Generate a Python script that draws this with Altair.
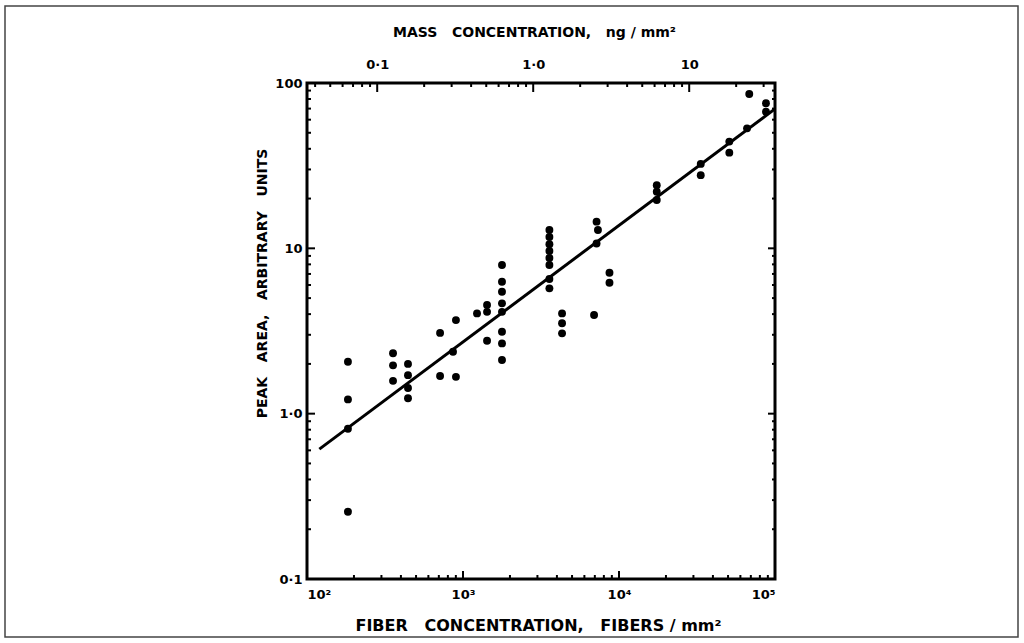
import altair as alt
import pandas as pd

# Measured points: fiber concentration (fibers/mm2) vs. peak area (arbitrary units)
fiber = [
    183, 183, 183, 183,
    356, 356, 356,
    444, 444, 444, 444,
    713, 713,
    901, 863, 901,
    1230,
    1426, 1426, 1426,
    1778, 1778, 1778, 1778, 1778, 1778, 1778, 1778,
    3580, 3580, 3580, 3580, 3580, 3580, 3580, 3580,
    4315, 4315, 4315,
    6920,
    7180, 7330, 7180,
    8690, 8690,
    17460, 17460, 17460,
    33420, 33420,
    50950, 50950,
    66200,
    68400,
    87500, 87500,
]
peak = [
    2.06, 1.22, 0.81, 0.255,
    2.32, 1.96, 1.58,
    2.0, 1.71, 1.43, 1.24,
    3.08, 1.69,
    3.68, 2.37, 1.67,
    4.04,
    4.54, 4.13, 2.76,
    7.93, 6.28, 5.46, 4.65, 4.13, 3.13, 2.66, 2.11,
    12.9, 11.7, 10.6, 9.64, 8.74, 7.93, 6.52, 5.73,
    4.04, 3.52, 3.06,
    3.95,
    14.5, 12.9, 10.7,
    7.12, 6.19,
    24.1, 22.0, 19.6,
    32.4, 27.7,
    44.2, 37.9,
    53.2,
    85.8,
    75.4, 67.0,
]

# Fitted calibration line (end points)
fit_fiber = [120, 100000]
fit_peak = [0.61, 69.7]

# Axis ticks
fiber_major = [100, 1000, 10000, 100000]
fiber_minor = [k * 10 ** d for d in (2, 3, 4) for k in range(2, 10)]
peak_major = [0.1, 1, 10, 100]
peak_minor = [round(k * 10.0 ** d, 4) for d in (-1, 0, 1) for k in range(2, 10)]
mass_major = [0.1, 1, 10]
mass_minor = ([round(k * 0.01, 3) for k in range(4, 10)]
              + [round(k * 0.1, 3) for k in range(2, 10)]
              + list(range(2, 10)) + [20, 30])

W, H = 468, 496
FONT = "DejaVu Sans"

FX = alt.Scale(type="log", domain=[100, 100000], nice=False)
FY = alt.Scale(type="log", domain=[0.1, 100], nice=False)
MX = alt.Scale(type="log", domain=[10 ** -1.45, 10 ** 1.55], nice=False)

GAP = "\u00a0\u00a0 "

bottom_labels = ("datum.value == 100 ? '10²' : datum.value == 1000 ? '10³' : "
                 "datum.value == 10000 ? '10⁴' : '10⁵'")
top_labels = "datum.value == 0.1 ? '0·1' : datum.value == 1 ? '1·0' : '10'"
left_labels = ("datum.value == 0.1 ? '0·1' : datum.value == 1 ? '1·0' : "
               "datum.value == 10 ? '10' : '100'")

common_axis = dict(ticks=False, domain=False, grid=False, labelFont=FONT,
                   labelFontWeight="bold", labelColor="black", titleFont=FONT,
                   titleFontWeight="bold", titleColor="black")

pts_df = pd.DataFrame({"fiber": fiber, "peak": peak})
fit_df = pd.DataFrame({"fiber": fit_fiber, "peak": fit_peak})

points = alt.Chart(pts_df).mark_circle(size=62, color="black", opacity=1).encode(
    x=alt.X("fiber:Q", scale=FX, axis=None),
    y=alt.Y("peak:Q", scale=FY, axis=None),
)

fit = alt.Chart(fit_df).mark_line(color="black", strokeWidth=3).encode(
    x=alt.X("fiber:Q", scale=FX, axis=None),
    y=alt.Y("peak:Q", scale=FY, axis=None),
)

# Bottom axis: fiber concentration
bottom_major = alt.Chart(pd.DataFrame({"v": fiber_major})).mark_rule(
    color="black", strokeWidth=2).encode(
    x=alt.X("v:Q", scale=FX, axis=alt.Axis(
        orient="bottom", values=fiber_major, labelExpr=bottom_labels,
        labelFontSize=13, labelPadding=9,
        title=f"FIBER{GAP}CONCENTRATION,{GAP}FIBERS / mm²", titleFontSize=16,
        titleX=231, titleY=46, titleAlign="center", titleBaseline="middle",
        **common_axis)),
    y=alt.value(H), y2=alt.value(H - 8),
)
bottom_minor = alt.Chart(pd.DataFrame({"v": fiber_minor})).mark_rule(
    color="black", strokeWidth=2).encode(
    x=alt.X("v:Q", scale=FX, axis=None),
    y=alt.value(H), y2=alt.value(H - 4),
)

# Top axis: mass concentration
top_major = alt.Chart(pd.DataFrame({"v": mass_major})).mark_rule(
    color="black", strokeWidth=2).encode(
    x=alt.X("v:Q", scale=MX, axis=alt.Axis(
        orient="top", values=mass_major, labelExpr=top_labels,
        labelFontSize=13, labelPadding=12,
        title=f"MASS{GAP}CONCENTRATION,{GAP}ng / mm²", titleFontSize=14,
        titleX=227, titleY=-51, titleAlign="center", titleBaseline="middle",
        **common_axis)),
    y=alt.value(0), y2=alt.value(9),
)
top_minor = alt.Chart(pd.DataFrame({"v": mass_minor})).mark_rule(
    color="black", strokeWidth=2).encode(
    x=alt.X("v:Q", scale=MX, axis=None),
    y=alt.value(0), y2=alt.value(4),
)

# Left axis: peak area
left_major = alt.Chart(pd.DataFrame({"v": peak_major})).mark_rule(
    color="black", strokeWidth=2).encode(
    y=alt.Y("v:Q", scale=FY, axis=alt.Axis(
        orient="left", values=peak_major, labelExpr=left_labels,
        labelFontSize=13, labelPadding=5,
        title=f"PEAK{GAP}AREA,{GAP}ARBITRARY{GAP}UNITS", titleFontSize=14,
        titleX=-45, titleY=200, titleAngle=-90, titleAlign="center",
        titleBaseline="middle", **common_axis)),
    x=alt.value(0), x2=alt.value(8),
)
left_minor = alt.Chart(pd.DataFrame({"v": peak_minor})).mark_rule(
    color="black", strokeWidth=2).encode(
    y=alt.Y("v:Q", scale=FY, axis=None),
    x=alt.value(0), x2=alt.value(4),
)

# Right axis ticks (no labels)
right_major = alt.Chart(pd.DataFrame({"v": peak_major})).mark_rule(
    color="black", strokeWidth=2).encode(
    y=alt.Y("v:Q", scale=FY, axis=None),
    x=alt.value(W), x2=alt.value(W - 7),
)
right_minor = alt.Chart(pd.DataFrame({"v": peak_minor})).mark_rule(
    color="black", strokeWidth=2).encode(
    y=alt.Y("v:Q", scale=FY, axis=None),
    x=alt.value(W), x2=alt.value(W - 3),
)

# Outer frame around the figure
frame = alt.Chart(pd.DataFrame({"k": [0]})).mark_rect(
    fill=None, stroke="#444444", strokeWidth=1.5).encode(
    x=alt.value(-302), x2=alt.value(711),
    y=alt.value(-77), y2=alt.value(554),
)

chart = alt.layer(
    frame, bottom_minor, bottom_major, top_minor, top_major,
    left_minor, left_major, right_minor, right_major, fit, points,
).resolve_scale(x="independent", y="independent").properties(
    width=W, height=H,
    autosize=alt.AutoSizeParams(type="none"),
    padding={"left": 307, "top": 83, "right": 249, "bottom": 64},
    background="white",
).configure_view(stroke="black", strokeWidth=3)

chart.save("out.html", embed_options={"renderer": "svg", "actions": False})
